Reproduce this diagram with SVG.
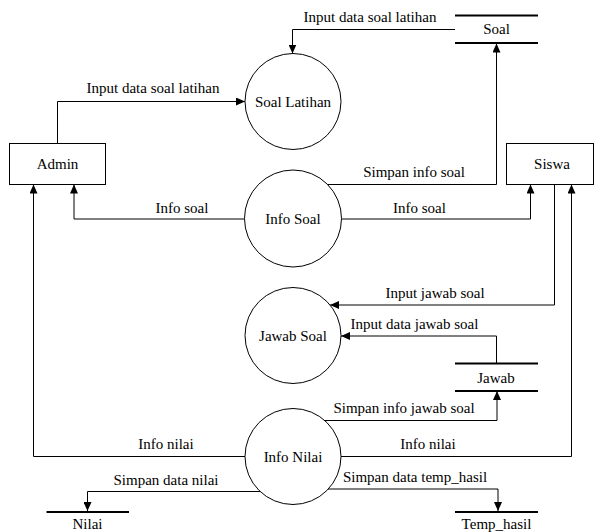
<svg xmlns="http://www.w3.org/2000/svg" width="595" height="532" viewBox="0 0 595 532">
<style>
text{font-family:"Liberation Serif","Times New Roman",serif;font-size:15px;fill:#000;text-anchor:middle}
.ent{fill:#fff;stroke:#000;stroke-width:1}
.proc{fill:#fff;stroke:#000;stroke-width:1}
.store{stroke:#000;stroke-width:2}
.flow{fill:none;stroke:#000;stroke-width:1;marker-end:url(#arr)}
</style>
<defs>
<marker id="arr" markerUnits="userSpaceOnUse" markerWidth="9" markerHeight="8" viewBox="0 0 9 8" refX="9" refY="4" orient="auto">
<path d="M0,0 L9,4 L0,8 Z" fill="#000"/>
</marker>
</defs>
<rect width="595" height="532" fill="#fff"/>
<g id="connectors">
<path class="flow" d="M57.5,143.5 V101.5 H245"/>
<path class="flow" d="M455,29.5 H292.5 V53.5"/>
<path class="flow" d="M327,184.5 H496.5 V43.5"/>
<path class="flow" d="M245,219 H74 V184.5"/>
<path class="flow" d="M341,219 H530.5 V184.5"/>
<path class="flow" d="M554.5,184.5 V305 H330"/>
<path class="flow" d="M496.5,363 V336 H341"/>
<path class="flow" d="M323,420.5 H497 V391"/>
<path class="flow" d="M245,456.5 H33.5 V184.5"/>
<path class="flow" d="M341,456.5 H571.5 V184.5"/>
<path class="flow" d="M260,491.5 H87.5 V511"/>
<path class="flow" d="M327,489 H498 V511"/>
<text x="153" y="93">Input data soal latihan</text>
<text x="370" y="22">Input data soal latihan</text>
<text x="414" y="177">Simpan info soal</text>
<text x="182" y="213">Info soal</text>
<text x="419.5" y="213">Info soal</text>
<text x="435" y="298">Input jawab soal</text>
<text x="414.5" y="329">Input data jawab soal</text>
<text x="404" y="413">Simpan info jawab soal</text>
<text x="166" y="449">Info nilai</text>
<text x="428" y="449">Info nilai</text>
<text x="166" y="485">Simpan data nilai</text>
<text x="415" y="481.5">Simpan data temp_hasil</text>
</g>
<g id="admin">
<rect class="ent" x="9.5" y="143.5" width="96" height="41"/>
<text x="57.5" y="168.5">Admin</text>
</g>
<g id="siswa">
<rect class="ent" x="506.5" y="143.5" width="87" height="41"/>
<text x="552" y="168.5">Siswa</text>
</g>
<g id="soal-latihan">
<circle class="proc" cx="293" cy="101.5" r="48"/>
<text x="293" y="106.5">Soal Latihan</text>
</g>
<g id="info-soal">
<circle class="proc" cx="293" cy="218.5" r="48.5"/>
<text x="293" y="224">Info Soal</text>
</g>
<g id="jawab-soal">
<circle class="proc" cx="293" cy="335.5" r="48"/>
<text x="293" y="341">Jawab Soal</text>
</g>
<g id="info-nilai">
<circle class="proc" cx="293" cy="456.5" r="48"/>
<text x="293" y="461.5">Info Nilai</text>
</g>
<g id="soal">
<line class="store" x1="455" y1="15.5" x2="538" y2="15.5"/>
<line class="store" x1="455" y1="43" x2="538" y2="43"/>
<text x="496.5" y="33.5">Soal</text>
</g>
<g id="jawab">
<line class="store" x1="455" y1="363.5" x2="538" y2="363.5"/>
<line class="store" x1="455" y1="391" x2="538" y2="391"/>
<text x="496" y="382.5">Jawab</text>
</g>
<g id="nilai">
<line class="store" x1="46.5" y1="512" x2="129" y2="512"/>
<text x="87.5" y="528.5">Nilai</text>
</g>
<g id="temp-hasil">
<line class="store" x1="455" y1="512" x2="538" y2="512"/>
<text x="496.5" y="528.5">Temp_hasil</text>
</g>
</svg>
